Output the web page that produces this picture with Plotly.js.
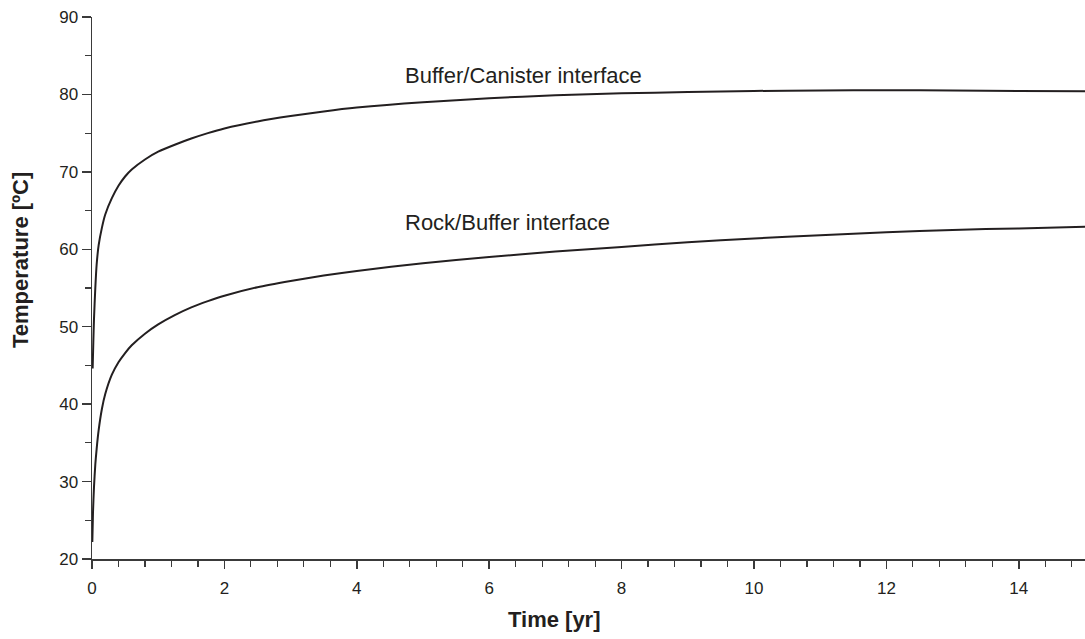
<!DOCTYPE html>
<html>
<head>
<meta charset="utf-8">
<script src="https://cdn.plot.ly/plotly-3.0.1.min.js"></script>
<style>html,body{margin:0;padding:0;background:#fff;}#chart{width:1085px;height:639px;}</style>
</head>
<body>
<div id="chart"></div>
<script>
// Buffer/Canister interface temperature
const timeUpper = [0.01, 0.02, 0.03, 0.05, 0.07, 0.1, 0.15, 0.2, 0.3, 0.4, 0.5, 0.6, 0.8, 1.0, 1.25, 1.5, 1.75, 2.0, 2.5, 3.0, 3.5, 4.0, 5.0, 6.0, 7.0, 8.0, 9.0, 10, 11, 12, 13, 14, 15];
const tempUpper = [44.6, 48.0, 51.0, 55.0, 58.0, 60.5, 62.8, 64.5, 66.6, 68.2, 69.4, 70.3, 71.6, 72.6, 73.5, 74.3, 75.0, 75.6, 76.5, 77.2, 77.8, 78.3, 79.0, 79.5, 79.9, 80.15, 80.3, 80.45, 80.5, 80.55, 80.5, 80.45, 80.4];
// Rock/Buffer interface temperature
const timeLower = [0.005, 0.015, 0.03, 0.05, 0.07, 0.1, 0.15, 0.2, 0.3, 0.4, 0.5, 0.6, 0.8, 1.0, 1.25, 1.5, 1.75, 2.0, 2.5, 3.0, 3.5, 4.0, 5.0, 6.0, 7.0, 8.0, 9.0, 10, 11, 12, 13, 14, 15];
const tempLower = [22.2, 26.0, 29.3, 32.2, 34.2, 36.6, 39.4, 41.3, 43.8, 45.4, 46.6, 47.6, 49.1, 50.3, 51.5, 52.5, 53.3, 54.0, 55.1, 55.9, 56.6, 57.2, 58.2, 59.0, 59.7, 60.3, 60.9, 61.4, 61.8, 62.2, 62.5, 62.7, 62.9];

const xTickVals = [0, 2, 4, 6, 8, 10, 12, 14];
const yTickVals = [20, 30, 40, 50, 60, 70, 80, 90];
const labels = ["Buffer/Canister interface", "Rock/Buffer interface"];
const xTitle = "Time [yr]";
const yTitle = "Temperature [ºC]";

const FONT = "Liberation Sans, Arial, Helvetica, sans-serif";
const INK = "#231f20";
const AX = "#3a3a3a";

const traces = [
  {x: timeUpper, y: tempUpper, mode: "lines", line: {color: INK, width: 2, shape: "spline", smoothing: 0.7}, name: labels[0], hoverinfo: "x+y"},
  {x: timeLower, y: tempLower, mode: "lines", line: {color: INK, width: 2, shape: "spline", smoothing: 0.7}, name: labels[1], hoverinfo: "x+y"}
];

const layout = {
  width: 1085, height: 639,
  margin: {l: 92, r: 0, t: 17, b: 80},
  paper_bgcolor: "#fff", plot_bgcolor: "#fff",
  showlegend: false,
  font: {family: FONT, color: INK, size: 17},
  xaxis: {
    range: [0, 15], tickvals: xTickVals, showgrid: false, zeroline: false,
    showline: true, linecolor: AX, linewidth: 1.5,
    ticks: "outside", ticklen: 8, tickwidth: 1.5, tickcolor: AX,
    ticklabelstandoff: 5,
    tickfont: {family: FONT, size: 17, color: INK},
    minor: {dtick: 0.4, tick0: 0, ticks: "outside", ticklen: 6, tickwidth: 1.2, tickcolor: AX, showgrid: false}
  },
  yaxis: {
    range: [20, 90], tickvals: yTickVals, showgrid: false, zeroline: false,
    showline: true, linecolor: AX, linewidth: 1.5,
    ticks: "outside", ticklen: 9, tickwidth: 1.5, tickcolor: AX,
    tickfont: {family: FONT, size: 17, color: INK},
    minor: {dtick: 5, tick0: 0, ticks: "outside", ticklen: 6, tickwidth: 1.2, tickcolor: AX, showgrid: false}
  },
  annotations: [
    {x: 4.70, y: 82.4, xref: "x", yref: "y", text: labels[0], showarrow: false, xanchor: "left", yanchor: "middle", font: {family: FONT, size: 22, color: INK}},
    {x: 4.70, y: 63.5, xref: "x", yref: "y", text: labels[1], showarrow: false, xanchor: "left", yanchor: "middle", font: {family: FONT, size: 22, color: INK}},
    {x: 0, y: 0, xref: "paper", yref: "paper", text: "<b>" + xTitle + "</b>", showarrow: false, xanchor: "center", yanchor: "middle", font: {family: FONT, size: 22, color: INK}},
    {x: 0, y: 0, xref: "paper", yref: "paper", text: "<b>" + yTitle + "</b>", showarrow: false, textangle: -90, xanchor: "center", yanchor: "middle", font: {family: FONT, size: 22, color: INK}}
  ]
};
// convert pixel positions of axis titles to paper fractions
const pw = 1085 - 92, ph = 639 - 17 - 80;
layout.annotations[2].x = (554 - 92) / pw; layout.annotations[2].y = (639 - 80 - 619) / ph;
layout.annotations[3].x = (20 - 92) / pw; layout.annotations[3].y = (639 - 80 - 260) / ph;

Plotly.newPlot("chart", traces, layout, {displayModeBar: false, staticPlot: true});
</script>
</body>
</html>
